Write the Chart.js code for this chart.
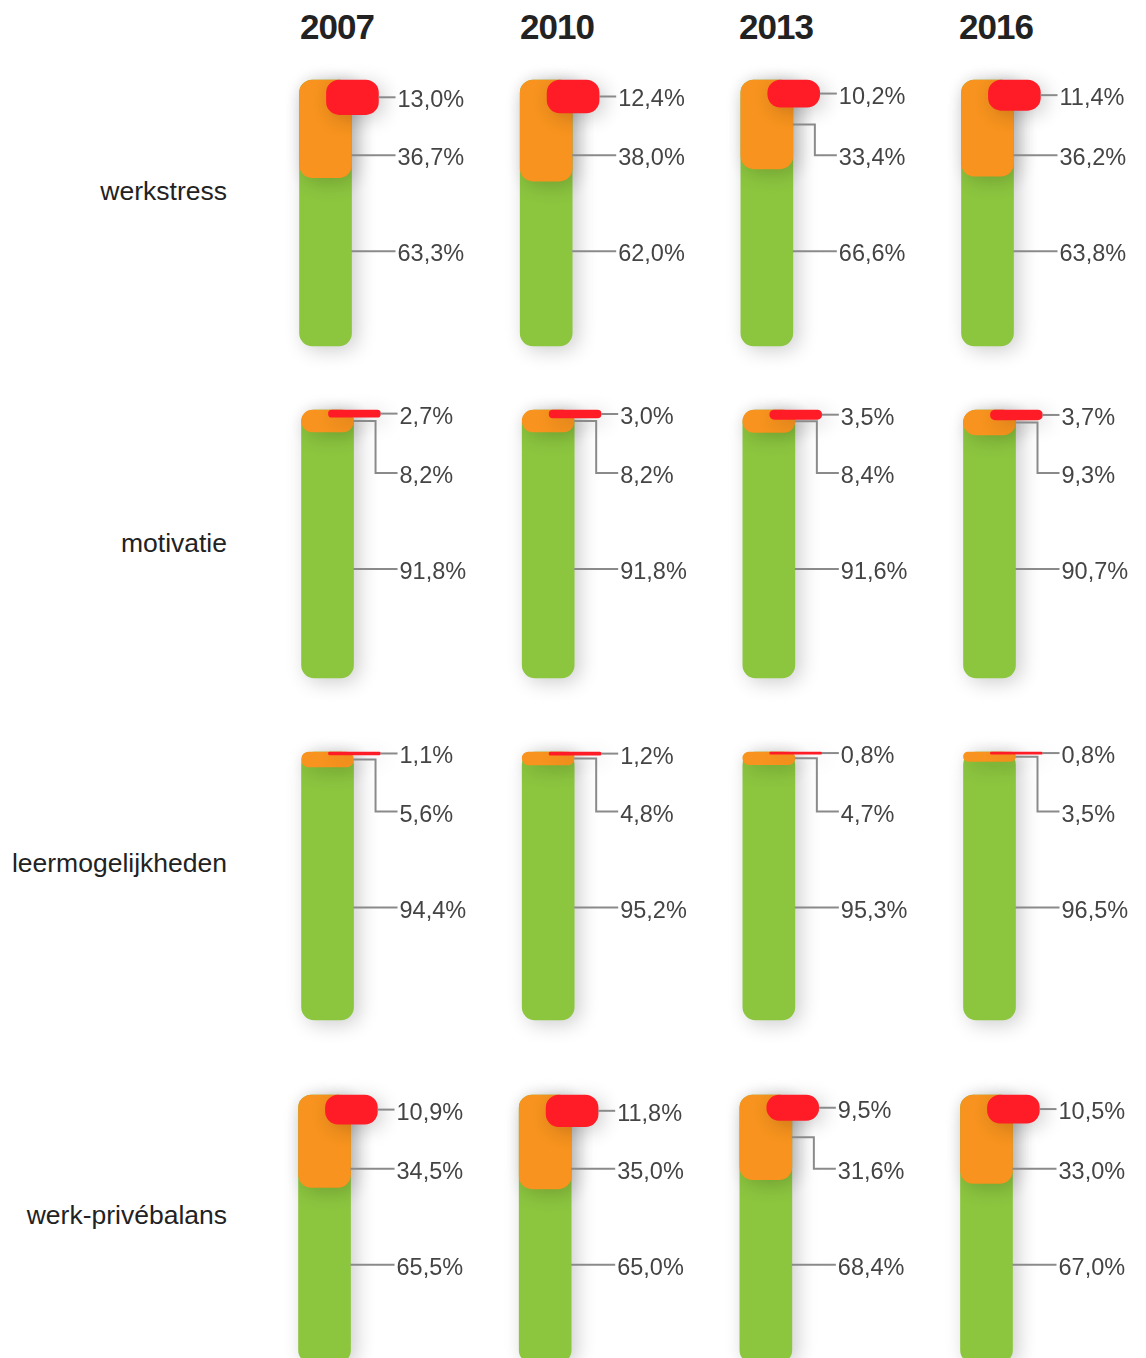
<!DOCTYPE html>
<html>
<head>
<meta charset="utf-8">
<script src="https://cdn.jsdelivr.net/npm/chart.js@4.4.1/dist/chart.umd.min.js"></script>
<style>
  html, body { margin: 0; padding: 0; background: #fff; overflow: hidden; }
  #wrap { position: relative; width: 1146px; height: 1358px; overflow: hidden; font-family: 'Liberation Sans', Arial, sans-serif; }
  .year { position: absolute; top: 8px; width: 120px; margin-left: -60px; text-align: center; font-weight: bold; font-size: 35px; letter-spacing: -1px; color: #222; line-height: 38px; }
  .rowlabel { position: absolute; right: 919px; font-size: 26.5px; color: #222; line-height: 30px; margin-top: -15px; white-space: nowrap; }
  canvas { position: absolute; left: 0; }
</style>
</head>
<body>
<div id="wrap"></div>
<script>
// jaren en thema's
const years = ['2007', '2010', '2013', '2016'];
const themes = ['werkstress', 'motivatie', 'leermogelijkheden', 'werk-privébalans'];

// per thema, per jaar (waarden in %)
const rood   = [[13.0, 12.4, 10.2, 11.4], [2.7, 3.0, 3.5, 3.7], [1.1, 1.2, 0.8, 0.8], [10.9, 11.8, 9.5, 10.5]];
const oranje = [[36.7, 38.0, 33.4, 36.2], [8.2, 8.2, 8.4, 9.3], [5.6, 4.8, 4.7, 3.5], [34.5, 35.0, 31.6, 33.0]];
const groen  = [[63.3, 62.0, 66.6, 63.8], [91.8, 91.8, 91.6, 90.7], [94.4, 95.2, 95.3, 96.5], [65.5, 65.0, 68.4, 67.0]];

const GREEN = '#8cc63f', ORANGE = '#f7931e', RED = '#ff1c27';
const W = 1146;
const PAD = 30;
const rowTop = [80, 410, 752, 1095];
const rowH = [266, 268, 268, 268];
const rowShift = [0, 2, 2, -1];
const labelY = [191, 543, 863, 1215];
const headerX = [337, 557, 776, 996];
const RED_OFF = 0.122;
const XMIN = -1.430, XMAX = 3.673;

const wrap = document.getElementById('wrap');

years.forEach((y, i) => {
  const d = document.createElement('div');
  d.className = 'year';
  d.style.left = headerX[i] + 'px';
  d.textContent = y;
  wrap.appendChild(d);
});

themes.forEach((t, r) => {
  const d = document.createElement('div');
  d.className = 'rowlabel';
  d.style.top = labelY[r] + 'px';
  d.textContent = t;
  wrap.appendChild(d);
});

const fmt = v => v.toFixed(1).replace('.', ',') + '%';

// schaduw onder de balken
const barShadow = {
  id: 'barShadow',
  beforeDatasetDraw(chart) {
    const c = chart.ctx;
    c.save();
    c.shadowColor = 'rgba(0,0,0,0.2)';
    c.shadowBlur = 20;
    c.shadowOffsetX = 5;
    c.shadowOffsetY = 4;
  },
  afterDatasetDraw(chart) {
    chart.ctx.restore();
  }
};

// labels met verbindingslijnen
const makeLeaders = r => ({
  id: 'leaders' + r,
  afterDatasetsDraw(chart) {
    const ctx = chart.ctx;
    const ys = chart.scales.y;
    const green = chart.getDatasetMeta(0).data;
    const red = chart.getDatasetMeta(2).data;
    const redCenters = rood[r].map(v => ys.getPixelForValue(100 - v / 2));
    const orangeLbl = Math.max(...redCenters) + 58;
    const greenLbl = orangeLbl + 96;

    ctx.save();
    ctx.strokeStyle = '#8a8a8a';
    ctx.lineWidth = 2;
    ctx.fillStyle = '#444';
    ctx.font = '23.5px "Liberation Sans", Arial, sans-serif';
    ctx.textBaseline = 'alphabetic';

    years.forEach((yr, i) => {
      const cx = green[i].x;
      const right = cx + green[i].width / 2;
      const lx = cx + 72;
      const redRight = red[i].x + red[i].width / 2;

      // rood
      ctx.beginPath();
      ctx.moveTo(redRight, redCenters[i]);
      ctx.lineTo(lx - 2, redCenters[i]);
      ctx.stroke();
      ctx.fillText(fmt(rood[r][i]), lx, redCenters[i] + 10);

      // oranje
      const oTop = ys.getPixelForValue(100);
      const oBot = ys.getPixelForValue(100 - oranje[r][i]);
      ctx.beginPath();
      if (orangeLbl <= oBot - 14) {
        ctx.moveTo(right, orangeLbl);
      } else {
        const cy = (oTop + oBot) / 2;
        ctx.moveTo(right, cy);
        ctx.lineTo(right + 22, cy);
        ctx.lineTo(right + 22, orangeLbl);
      }
      ctx.lineTo(lx - 2, orangeLbl);
      ctx.stroke();
      ctx.fillText(fmt(oranje[r][i]), lx, orangeLbl + 10);

      // groen
      ctx.beginPath();
      ctx.moveTo(right, greenLbl);
      ctx.lineTo(lx - 2, greenLbl);
      ctx.stroke();
      ctx.fillText(fmt(groen[r][i]), lx, greenLbl + 10);
    });
    ctx.restore();
  }
});

const barOpts = {
  grouped: false,
  barThickness: 52,
  borderSkipped: false,
  borderRadius: 13,
  borderWidth: 0,
  clip: false
};

themes.forEach((t, r) => {
  const cv = document.createElement('canvas');
  const h = rowH[r] + 2 * PAD;
  cv.width = W;
  cv.height = h;
  cv.style.width = W + 'px';
  cv.style.height = h + 'px';
  cv.style.top = (rowTop[r] - PAD) + 'px';
  wrap.appendChild(cv);

  new Chart(cv, {
    type: 'bar',
    data: {
      datasets: [
        Object.assign({ label: 'groen', backgroundColor: GREEN, order: 3,
          data: years.map((y, i) => ({ x: i, y: [0, groen[r][i] + oranje[r][i]] })) }, barOpts),
        Object.assign({ label: 'oranje', backgroundColor: ORANGE, order: 2,
          data: years.map((y, i) => ({ x: i, y: [100 - oranje[r][i], 100] })) }, barOpts),
        Object.assign({ label: 'rood', backgroundColor: RED, order: 1,
          data: years.map((y, i) => ({ x: i + RED_OFF, y: [100 - rood[r][i], 100] })) }, barOpts)
      ]
    },
    options: {
      responsive: false,
      animation: false,
      layout: { padding: { top: PAD, bottom: PAD, left: 10 + rowShift[r], right: 10 - rowShift[r] } },
      scales: {
        x: { type: 'linear', min: XMIN, max: XMAX, offset: false, display: false },
        y: { min: 0, max: 100, display: false }
      },
      plugins: {
        legend: { display: false },
        tooltip: { enabled: false }
      }
    },
    plugins: [barShadow, makeLeaders(r)]
  });
});
</script>
</body>
</html>
